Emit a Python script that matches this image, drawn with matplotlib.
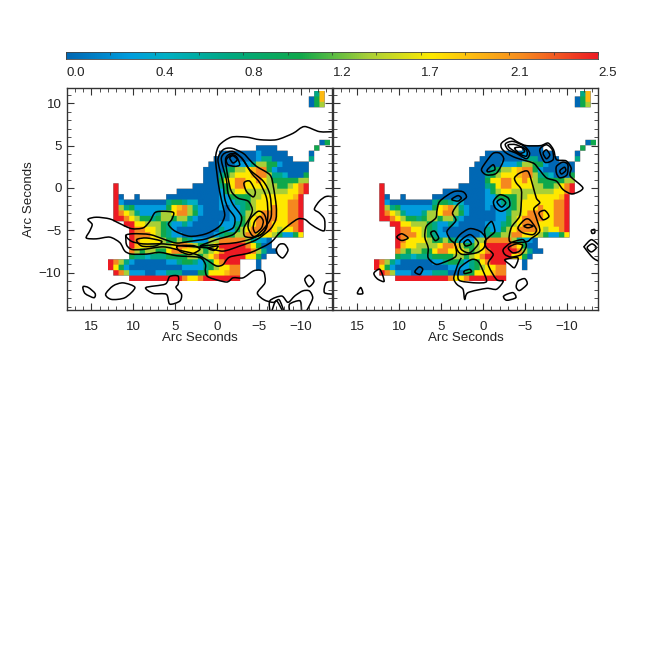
import numpy as np
import matplotlib
matplotlib.use("Agg")
import matplotlib.pyplot as plt
from matplotlib.colors import LinearSegmentedColormap
from matplotlib.path import Path
from matplotlib.patches import PathPatch

plt.rcParams['font.family'] = ['Liberation Sans', 'DejaVu Sans']

W = H = 664
VMIN, VMAX = 0.0, 2.5
CBAR_LABELS = ["0.0", "0.4", "0.8", "1.2", "1.7", "2.1", "2.5"]
X_TICKS = [15, 10, 5, 0, -5, -10]
Y_TICKS = [10, 5, 0, -5, -10]
AXIS_LABEL = "Arc Seconds"

# colour levels of the map, code -> value
LEVELS = [0.0, 0.3, 0.47, 0.75, 1.1, 1.42, 1.72, 1.92, 2.15, 2.5]
CMAP_STOPS = [(0.0, "#0068b4"), (0.3, "#009ede"), (0.47, "#00b0c4"), (0.75, "#00a884"),
              (1.1, "#10a84c"), (1.42, "#a8cf38"), (1.72, "#ffea00"), (1.92, "#fdba12"),
              (2.15, "#f68a1f"), (2.5, "#ed1c24")]

# cell geometry of the map (arcsec)
X0, DX = 13.06, 0.629
Y0, DY = 11.48, 0.64
NROWS, NCOLS = 35, 42

# per-row runs: row -> [(first column, colour codes)]
CELLS = {
    0: [(39, "37")], 1: [(38, "047")], 2: [(38, "045")], 9: [(40, "04")],
    10: [(28, "0000"), (39, "4")],
    11: [(21, "0000000" "1" "00000"), (38, "0")],
    12: [(20, "00000000" "133" "0000"), (38, "3")],
    13: [(19, "00000" "111" "3" "55" "44" "1" "00000")],
    14: [(18, "0000" "3" "4" "55" "6" "7" "88" "4" "1" "000000")],
    15: [(18, "000" "3" "4" "5" "666" "7" "88" "5" "33" "2" "000" "4")],
    16: [(18, "000" "4" "66" "88" "66" "8" "6" "5" "44444" "55")],
    17: [(1, "9"), (16, "00000" "3" "4" "6" "88" "6666" "55" "44" "5" "6" "8" "9")],
    18: [(1, "9"), (13, "00000000" "1" "4" "5" "66" "55555555" "66" "8" "9")],
    19: [(1, "90"), (5, "0"), (11, "0000000000" "11" "4444" "55" "666666" "7" "9")],
    20: [(1, "91" "00000000" "3" "44" "3" "22" "0000" "111" "33" "4" "5" "666666" "88" "9")],
    21: [(1, "95" "34" "111111" "46785" "31" "000" "1" "0" "11" "3" "4" "5" "666" "8" "66" "88" "9")],
    22: [(1, "9" "8653" "111" "355688" "541" "00000" "11" "3" "55" "6" "888" "66" "88" "9")],
    23: [(1, "9" "9865" "44" "3" "455" "4" "55" "3" "1" "000000" "11" "4" "5" "6" "8888" "66" "88" "9")],
    24: [(3, "99" "66" "555" "4" "3" "11" "3" "1" "00000" "111" "3" "4" "5" "6" "888" "666" "88" "9")],
    25: [(4, "9" "88" "66" "5" "4" "3" "1" "00000000" "3" "11" "4" "5" "6" "8888" "6" "5" "66" "8" "9")],
    26: [(4, "9" "888" "6" "5" "4" "3" "11" "000000" "1" "3" "44" "55" "88" "666" "5" "4" "11" "4" "6")],
    27: [(4, "9" "8" "6666" "5" "44" "5" "4" "3" "111" "55" "88888" "5" "3" "2" "1" "0")],
    28: [(4, "9" "7" "66" "5555" "6" "88" "7" "5" "44" "5" "6" "99999" "8" "6" "4" "00")],
    29: [(4, "8" "5" "4" "55" "44" "6" "88" "666" "5" "4" "5" "6" "8" "99999" "8" "5" "3" "0" "0")],
    30: [(4, "4" "33" "2" "333" "4444" "55" "4" "5" "6" "8" "99999" "66" "4" "0")],
    31: [(0, "9" "8" "5" "3" "1" "000000" "11" "3" "44" "3" "1" "3" "4" "6" "8" "999"), (28, "0")],
    32: [(0, "9641" "0000000000" "1111" "3" "4" "5" "66" "88"), (28, "0")],
    33: [(1, "98" "5" "111" "00" "11" "333" "000" "44" "666" "7" "88")],
    34: [(4, "9999999999" "8" "66" "8" "9999999")],
}

# contour lines, left panel (arcsec); (points, closed)
LEFT_A = [(-8.0,-14.6),(-7.4,-13.2),(-6.7,-13.5),(-5.6,-13.2),(-4.8,-12.4),(-5.7,-11.2),(-5.6,-10.0),(-5.1,-9.7),(-4.3,-9.8),
          (-3.1,-10.6),(-1.9,-10.6),(-1.1,-11.1),(1.05,-10.5),(1.4,-9.8),(1.4,-9.0),(2.1,-8.2),(4.8,-8.0),(6.8,-7.6),(8.4,-7.8),
          (10.2,-7.8),(11.0,-7.45),(11.6,-6.45),(12.8,-5.8),(14.4,-6.0),(15.6,-5.9),(15.2,-5.1),(14.9,-4.3),(15.4,-3.7),
          (14.4,-3.45),(12.8,-3.65),(11.6,-4.2),(10.2,-4.8),(8.8,-4.7),(8.0,-3.9),(7.4,-2.9),(6.4,-2.75),(5.2,-2.9),(5.4,-3.7),
          (5.8,-4.3),(5.0,-5.1),(3.25,-5.7),(1.3,-5.4),(-0.3,-4.5),(-0.9,-3.3),(-0.7,-2.15),(-0.3,-0.4),(0.1,2.35),(0.15,3.9),
          (-0.3,5.1),(-1.7,6.0),(-3.5,6.0),(-5.1,5.7),(-7.1,5.7),(-9.05,6.45),(-10.4,7.25),(-12.2,6.65),(-14.0,6.65)]
LEFT_S = [(10.9,-5.6),(10.8,-6.7),(10.2,-7.25),(8.8,-7.25),(6.4,-6.95),(4.05,-7.45),(2.45,-7.85),(1.3,-8.45),(0.1,-9.2),(-0.7,-9.05),
          (-1.5,-8.15),(-3.9,-7.65),(-6.3,-6.5),(-7.45,-5.3),(-8.65,-4.3),(-9.65,-3.65),(-10.45,-3.7),(-11.2,-4.3),(-12.2,-4.9),
          (-12.8,-5.0),(-12.8,-3.7),(-12.2,-2.95),(-11.6,-2.5),(-12.2,-1.55),(-13.0,-1.0),(-14.0,-1.05)]
LEFT_C2 = [(10.9,-5.6),(10.0,-5.4),(8.0,-5.5),(6.2,-6.1),(4.85,-6.5),(3.25,-6.3),(1.3,-6.0),(-0.5,-5.3),(-1.9,-4.7),(-2.1,-3.5),
           (-1.3,-2.35),(-0.9,-1.2),(-0.7,0.6),(-0.1,3.3),(-0.7,4.5),(-1.7,4.7),(-3.1,4.1),(-3.9,3.3),(-4.7,2.55),(-6.3,1.55),
           (-6.7,0.2),(-7.05,-2.15),(-7.0,-3.7),(-6.3,-4.9),(-4.7,-6.1),(-2.7,-6.85),(-0.7,-7.45),(1.3,-7.05),(4.05,-6.85),
           (6.4,-6.6),(8.8,-6.6),(10.2,-6.3)]
LEFT_C3 = [(2.05,-6.85),(0.1,-6.1),(-1.9,-5.5),(-2.7,-4.5),(-2.9,-3.35),(-1.9,-1.95),(-1.3,-0.6),(-1.1,1.0),(-0.5,3.35),(-0.9,4.1),
           (-1.9,4.3),(-2.9,3.55),(-3.9,2.15),(-5.5,0.8),(-6.3,-0.8),(-6.45,-3.35),(-5.65,-4.7),(-4.3,-5.9),(-2.3,-6.45),(-0.7,-6.6),(0.85,-6.75)]
LEFT_C4 = [(-1.0,3.35),(-1.3,1.2),(-1.7,-0.4),(-2.5,-1.2),(-3.7,-1.55),(-4.2,-2.55),(-3.9,-3.5),(-3.2,-4.7),(-3.3,-5.7),(-4.5,-5.8),
           (-5.65,-5.1),(-6.05,-3.35),(-5.9,-1.2),(-5.1,0.6),(-4.1,1.75),(-3.1,3.35),(-2.3,4.0),(-1.5,4.0)]
LEFT_LOOPS = [
    [(-1.1,3.35),(-1.7,3.9),(-2.3,3.7),(-2.7,2.75),(-2.1,2.55),(-1.3,2.75)],
    [(-1.5,3.55),(-1.9,3.8),(-2.4,3.35),(-1.9,2.95)],
    [(-3.2,0.6),(-3.9,0.8),(-4.55,-0.4),(-4.3,-1.05),(-3.5,-0.4)],
    [(-3.7,-4.7),(-3.9,-3.7),(-4.9,-2.75),(-5.65,-3.15),(-5.95,-4.5),(-5.3,-5.5),(-4.3,-5.7)],
    [(-4.3,-4.7),(-4.5,-3.9),(-5.1,-3.35),(-5.5,-3.9),(-5.3,-4.7),(-4.6,-5.3)],
    [(9.6,-6.1),(8.4,-5.9),(6.6,-6.3),(7.4,-6.85),(9.0,-6.85)],
    [(4.75,-6.85),(2.85,-6.8),(2.05,-7.25),(3.25,-7.85),(4.45,-7.45)],
    [(1.05,-7.05),(-0.1,-6.85),(0.3,-7.35),(0.85,-7.25)],
    [(16.0,-11.65),(15.35,-11.75),(14.55,-12.45),(14.7,-12.95),(15.75,-12.45)],
    [(13.3,-12.55),(12.4,-11.55),(11.2,-11.2),(9.8,-11.75),(11.0,-12.95),(12.6,-13.15)],
    [(8.5,-11.75),(6.2,-11.35),(5.65,-10.45),(4.65,-10.4),(4.65,-11.35),(4.9,-11.75),(4.25,-12.55),(4.45,-13.35),(5.65,-13.7),(6.05,-12.55),(7.6,-12.45)],
    [(-7.45,-6.65),(-8.05,-6.65),(-8.45,-7.35),(-7.85,-8.25),(-7.25,-7.85),(-7.05,-7.25)],
    [(-10.45,-10.8),(-11.0,-10.3),(-11.55,-11.0),(-10.95,-11.65)],
]
LEFT_OPEN = [
    [(-6.3,-14.6),(-6.3,-13.3),(-7.7,-12.75),(-8.45,-13.5),(-9.25,-12.75),(-10.2,-12.15),(-11.0,-12.15),(-11.4,-12.95),(-11.0,-13.9),(-10.6,-14.6)],
    [(-8.65,-14.6),(-8.65,-13.7),(-9.85,-13.3),(-10.05,-14.1),(-10.05,-14.6)],
    [(-6.5,-14.6),(-7.05,-13.3),(-7.85,-14.6)],
    [(-14.0,-11.0),(-13.0,-11.2),(-12.8,-12.35),(-14.0,-12.55)],
]

# contour lines, right panel (arcsec)
RIGHT_LOOPS = [
    [(5.15,-1.55),(3.55,-0.45),(2.4,-0.45),(2.0,-1.1),(3.0,-1.9),(3.65,-2.95),(3.25,-3.85),(4.3,-5.1),(3.9,-6.1),(3.35,-6.65),(3.25,-8.05),
     (4.75,-8.8),(5.65,-9.0),(6.55,-8.25),(6.55,-7.05),(6.95,-5.8),(6.75,-4.5),(5.65,-3.55),(5.5,-2.65)],
    [(3.75,-1.35),(3.0,-0.9),(2.6,-1.2),(3.0,-1.55)],
    [(6.25,-5.3),(5.75,-5.1),(5.3,-5.9),(5.75,-6.2)],
    [(10.3,-5.8),(9.7,-5.4),(8.95,-5.9),(9.7,-6.2)],
    [(8.15,-9.9),(7.6,-9.3),(7.2,-9.6),(7.55,-10.2)],
    [(13.0,-10.0),(12.3,-9.6),(11.8,-11.0),(12.5,-10.8),(12.9,-10.4)],
    [(15.0,-12.45),(14.6,-11.75),(14.35,-12.45)],
    [(3.35,-6.45),(2.75,-5.5),(1.6,-4.8),(0.4,-5.1),(-0.3,-5.9),(-0.1,-7.05),(0.8,-7.65),(2.4,-7.85),(3.0,-7.45)],
    [(2.75,-6.3),(1.6,-5.5),(0.8,-6.1),(0.6,-6.65),(1.6,-7.65),(2.6,-7.25)],
    [(2.3,-6.45),(1.8,-6.1),(1.4,-6.6),(2.05,-6.85)],
    [(3.0,-10.6),(2.75,-9.4),(1.4,-8.45),(0.6,-8.65),(0,-9.8),(-0.4,-11.05),(0.8,-11.2),(2.6,-11.0)],
    [(2.25,-9.8),(1.6,-9.6),(1.4,-9.9),(2.2,-10.1)],
    [(-3.75,1.2),(-4.35,1.75),(-5.35,1.95),(-5.95,0.2),(-6.35,-1.2),(-6.75,-1.75),(-6.05,-2.45),(-6.35,-3.55),(-6.75,-5.1),(-5.75,-5.95),
     (-5.15,-6.35),(-3.2,-6.35),(-3.35,-4.7),(-4.35,-3.35),(-4.55,-1.75),(-4.55,-0.2),(-3.95,0.6)],
    [(-4.15,-4.7),(-4.95,-3.75),(-5.55,-3.75),(-6.35,-4.9),(-5.95,-5.5),(-4.75,-5.3)],
    [(-4.85,-4.5),(-5.35,-4.3),(-5.95,-4.5),(-5.35,-4.7)],
    [(-6.65,-2.95),(-7.35,-2.65),(-7.85,-3.35),(-7.15,-3.75)],
    [(-2.4,-7.25),(-3.35,-6.45),(-4.75,-6.1),(-5.15,-6.85),(-4.55,-7.85),(-3.35,-8.15),(-2.6,-7.85)],
    [(-3.0,-7.05),(-3.95,-6.6),(-4.7,-6.75),(-4.35,-7.45),(-3.55,-7.65)],
    [(-2.6,-8.45),(-4.15,-8.25),(-3.75,-9.4),(-3.15,-9.0)],
    [(-4.15,-11.0),(-4.95,-10.7),(-5.25,-11.35),(-4.35,-12.1),(-3.95,-11.7)],
    [(-2.45,-12.75),(-3.55,-12.35),(-3.9,-12.95),(-2.8,-13.25)],
    [(-12.9,-5.0),(-13.3,-4.9),(-13.3,-5.3),(-13.0,-5.35)],
    [(-12.4,-7.05),(-13.0,-6.6),(-13.5,-7.05),(-12.9,-7.55)],
    [(-2.2,5.3),(-3.2,5.9),(-4.15,5.4),(-5.15,5.0),(-6.85,5.0),(-7.75,5.3),(-8.4,4.5),(-8.75,3.35),(-9.9,3.2),(-10.5,2.35),(-10.4,1.4),
     (-11.9,0),(-10.65,-0.7),(-9.55,-0.2),(-8.75,0.8),(-7.55,1.2),(-6.55,2.35),(-5.95,2.95),(-3.95,3.55),(-2.8,4.1),(-2.2,4.7)],
    [(-3.0,5.1),(-3.95,5.1),(-5.15,4.5),(-5.15,3.75),(-4.15,4.1),(-3.2,4.7)],
    [(-3.75,4.7),(-4.55,4.8),(-4.95,4.3),(-4.35,4.1)],
    [(-2.65,5.2),(-3.55,5.5),(-4.95,4.9),(-5.55,4.1),(-5.15,3.45),(-3.95,4.1),(-3.0,4.5)],
    [(-6.75,4.5),(-7.55,5.1),(-8.25,4.5),(-8.35,3.35),(-7.35,3.05)],
    [(-7.15,4.1),(-7.55,4.5),(-7.95,3.9),(-7.55,3.45)],
    [(-8.75,2.55),(-9.5,3.05),(-10.1,2.75),(-10.0,1.55),(-9.15,1.2),(-8.75,1.75)],
    [(-9.15,2.05),(-9.7,2.45),(-9.85,2.05),(-9.35,1.65)],
    [(0.2,2.15),(-0.4,3.15),(-1.2,4.1),(-2.0,4.1),(-2.45,3.35),(-1.6,1.75),(-0.4,1.55)],
    [(-0.5,2.15),(-1.2,2.75),(-1.4,2.15),(-0.6,1.9)],
    [(-1.25,-1.55),(-2.0,-0.8),(-3.0,-1.2),(-3.15,-2.15),(-2.2,-2.75),(-1.45,-2.35)],
    [(-1.65,-1.65),(-2.2,-1.3),(-2.7,-1.75),(-2.2,-2.25)],
]
RIGHT_OPEN = [
    [(2.6,-8.25),(3.0,-9.0),(3.5,-10.6),(3.15,-11.35),(2.4,-11.95),(2.2,-13.15),(1.8,-12.35),(-0.4,-11.85),(-1.6,-11.95),(-2.4,-11.0),
     (-1.6,-10.8),(-0.6,-9.0),(-1.2,-7.85),(-0.4,-7.05),(-0.2,-6.3),(-0.8,-5.7),(-1.4,-5.1),(-1.0,-3.95),(-0.2,-4.9),(-0.3,-5.9)],
    [(-14.0,-6.9),(-13.7,-6.65),(-12.9,-6.1),(-12.1,-6.85),(-12.1,-7.05),(-13.1,-8.25),(-14.1,-8.8)],
]

# ---- build map ----
grid = np.full((NROWS, NCOLS), np.nan)
for r, runs in CELLS.items():
    for c0, codes in runs:
        for i, ch in enumerate(codes):
            grid[r, c0 + i] = LEVELS[int(ch)]
UP = 6
fine = np.ma.masked_invalid(np.repeat(np.repeat(grid, UP, axis=0), UP, axis=1))
EXTENT = [X0, X0 - DX * NCOLS, Y0 - DY * NROWS, Y0]

cmap = LinearSegmentedColormap.from_list(
    "m", [(v / VMAX, c) for v, c in CMAP_STOPS], N=256)

fig = plt.figure(figsize=(W / 100, H / 100), dpi=100)


def make_ax(l, r, t, b):
    return fig.add_axes([l / W, 1 - b / H, (r - l) / W, (b - t) / H])


EDGE = "#333333"
FS = 9.6


def smooth_path(pts, closed):
    """Bezier curve through the read contour vertices."""
    p = np.array(pts, float)
    n = len(p)
    k = 0.14
    verts, codes = [p[0]], [Path.MOVETO]
    for i in range(n if closed else n - 1):
        if closed:
            a, b, c, d = p[(i - 1) % n], p[i], p[(i + 1) % n], p[(i + 2) % n]
        else:
            a, b, c, d = p[max(i - 1, 0)], p[i], p[i + 1], p[min(i + 2, n - 1)]
        verts += [b + (c - a) * k, c - (d - b) * k, c]
        codes += [Path.CURVE4] * 3
    return Path(verts, codes)


def panel(ax, closed, opened, ylabels):
    ax.imshow(fine, cmap=cmap, vmin=VMIN, vmax=VMAX, extent=EXTENT, origin="upper",
              aspect="auto", interpolation="bilinear")
    for pts in closed:
        ax.add_patch(PathPatch(smooth_path(pts, True), fc="none", ec="black", lw=1.1))
    for pts in opened:
        ax.add_patch(PathPatch(smooth_path(pts, False), fc="none", ec="black", lw=1.1))
    ax.set_xlim(17.9, -13.7)
    ax.set_ylim(-14.4, 11.8)
    ax.set_xticks(X_TICKS)
    ax.set_yticks(Y_TICKS)
    ax.set_xticks(np.arange(-13, 18), minor=True)
    ax.set_yticks(np.arange(-14, 12), minor=True)
    ax.tick_params(which="major", direction="in", top=True, right=True, length=5.2,
                   width=0.8, color=EDGE, labelsize=FS, labelcolor="#222222")
    ax.tick_params(axis="x", which="major", pad=8)
    ax.tick_params(axis="y", which="major", pad=4)
    ax.tick_params(which="minor", direction="in", top=True, right=True, length=2.6,
                   width=0.6, color=EDGE)
    ax.set_xticklabels([str(v).replace("-", "\u2212") for v in X_TICKS])
    if ylabels:
        ax.set_yticklabels([str(v).replace("-", "\u2212") for v in Y_TICKS])
        ax.set_ylabel(AXIS_LABEL, fontsize=FS, labelpad=2.5, color="#222222")
    else:
        ax.set_yticklabels([])
    ax.set_xlabel(AXIS_LABEL, fontsize=FS, labelpad=-0.5, color="#222222")
    for s in ax.spines.values():
        s.set_linewidth(1.0)
        s.set_color(EDGE)


axL = make_ax(67, 332, 88, 310)
axR = make_ax(333, 598, 88, 310)
panel(axL, [LEFT_C2, LEFT_C3, LEFT_C4] + LEFT_LOOPS, [LEFT_A, LEFT_S] + LEFT_OPEN, True)
panel(axR, RIGHT_LOOPS, RIGHT_OPEN, False)

# ---- colour bar ----
cax = make_ax(66, 598, 52, 59)
cax.imshow(np.linspace(VMIN, VMAX, 512)[None, :], aspect="auto", cmap=cmap, vmin=VMIN, vmax=VMAX,
           extent=[0, len(CBAR_LABELS) - 1, 0, 1])
cax.set_yticks([])
cax.set_xticks(np.arange(len(CBAR_LABELS)))
cax.set_xticklabels([])
cax.set_xticks(np.arange(0.5, len(CBAR_LABELS) - 1, 1), minor=True)
cax.tick_params(which="both", direction="in", bottom=False, top=True, length=2, width=0.5, color="#333333")
for s in cax.spines.values():
    s.set_linewidth(0.6)
    s.set_color("#444444")
for i, t in enumerate(CBAR_LABELS):
    cax.annotate(t, (i, 0), xycoords=("data", "axes fraction"), xytext=(0.5, -6),
                 textcoords="offset points", ha="left", va="top", fontsize=FS,
                 annotation_clip=False, color="#222222")

fig.savefig("out.png", dpi=100)
